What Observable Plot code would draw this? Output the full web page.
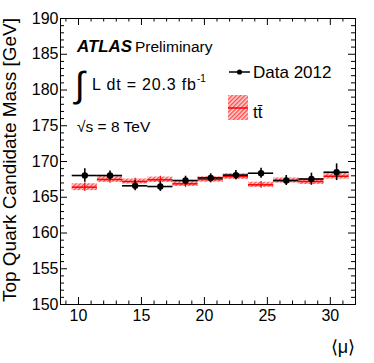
<!DOCTYPE html>
<html><head><meta charset="utf-8">
<script src="https://cdn.jsdelivr.net/npm/d3@7"></script>
<script src="https://cdn.jsdelivr.net/npm/@observablehq/plot@0.6"></script>
<style>body{margin:0;background:#fff;} svg{display:block;}</style>
</head><body><div id="chart"></div>
<script>
// bins in <mu>
const binLow    = [9.5, 11.5, 13.5, 15.5, 17.5, 19.5, 21.5, 23.5, 25.5, 27.5, 29.5];
const binHigh   = [11.5, 13.5, 15.5, 17.5, 19.5, 21.5, 23.5, 25.5, 27.5, 29.5, 31.5];
const binCenter = [10.5, 12.5, 14.5, 16.5, 18.5, 20.5, 22.5, 24.5, 26.5, 28.5, 30.5];
// Data 2012
const dataMass = [168.04, 168.04, 166.60, 166.50, 167.34, 167.70, 168.10, 168.36, 167.34, 167.55, 168.50];
const dataErr  = [0.93, 0.63, 0.70, 0.68, 0.60, 0.58, 0.63, 0.70, 0.70, 0.82, 1.17];
// ttbar MC
const ttMass = [166.41, 167.48, 167.20, 167.44, 166.88, 167.48, 167.90, 166.74, 167.34, 167.20, 167.94];
const ttBand = [0.48, 0.40, 0.35, 0.38, 0.38, 0.38, 0.40, 0.36, 0.36, 0.42, 0.40];
// ticks
const xMajor = [10, 15, 20, 25, 30];
const yMajor = [150, 155, 160, 165, 170, 175, 180, 185, 190];
const xMinor = d3.range(9, 32).filter(v => v % 5 !== 0);
const yMinor = d3.range(151, 190).filter(v => v % 5 !== 0);

const rows = binCenter.map((c, i) => ({
  c, lo: binLow[i], hi: binHigh[i],
  m: dataMass[i], e: dataErr[i], tt: ttMass[i], tb: ttBand[i]
}));

const W = 374, H = 363, mL = 60, mR = 19, mT = 18, mB = 59;
const pw = W - mL - mR, ph = H - mT - mB;
const FONT = "'Liberation Sans', Arial, Helvetica, sans-serif";

const svg = Plot.plot({
  width: W, height: H,
  marginLeft: mL, marginRight: mR, marginTop: mT, marginBottom: mB,
  x: {domain: [8.57, 32]},
  y: {domain: [150, 190]},
  style: {fontFamily: FONT, fontSize: "16px", background: "white", color: "black"},
  marks: [
    Plot.rect(rows, {x1: "lo", x2: "hi", y1: d => d.tt - d.tb, y2: d => d.tt + d.tb, fill: "#ff0001"}),
    Plot.ruleY(rows, {x1: "lo", x2: "hi", y: "tt", stroke: "#ff0000", strokeWidth: 1.5}),
    Plot.ruleX(rows, {x: "c", y1: d => d.tt - d.tb - 0.12, y2: d => d.tt + d.tb + 0.12, stroke: "#ff0000", strokeWidth: 1.2}),
    Plot.ruleY(rows, {x1: "lo", x2: "hi", y: "m", stroke: "black", strokeWidth: 1.6}),
    Plot.ruleX(rows, {x: "c", y1: d => d.m - d.e, y2: d => d.m + d.e, stroke: "black", strokeWidth: 1.6}),
    Plot.dot(rows, {x: "c", y: "m", r: 3.2, fill: "black", stroke: null}),
    Plot.frame({stroke: "black", strokeWidth: 1}),
    Plot.tickY(yMajor, {y: d => d, insetRight: pw - 7, stroke: "black"}),
    Plot.tickY(yMajor, {y: d => d, insetLeft: pw - 7, stroke: "black"}),
    Plot.tickY(yMinor, {y: d => d, insetRight: pw - 4, stroke: "black"}),
    Plot.tickY(yMinor, {y: d => d, insetLeft: pw - 4, stroke: "black"}),
    Plot.tickX(xMajor, {x: d => d, insetTop: ph - 7, stroke: "black"}),
    Plot.tickX(xMajor, {x: d => d, insetBottom: ph - 7, stroke: "black"}),
    Plot.tickX(xMinor, {x: d => d, insetTop: ph - 3.5, stroke: "black"}),
    Plot.tickX(xMinor, {x: d => d, insetBottom: ph - 3.5, stroke: "black"}),
    Plot.axisY({ticks: yMajor, tickSize: 0, tickPadding: 2, label: null, fontSize: 16}),
    Plot.axisX({ticks: xMajor, tickSize: 0, tickPadding: 5, label: null, fontSize: 16})
  ]
});

const s = d3.select(svg);
const defs = s.insert("defs", ":first-child");
const pat = defs.append("pattern").attr("id", "hatch").attr("patternUnits", "userSpaceOnUse")
  .attr("width", 3).attr("height", 3).attr("patternTransform", "rotate(45)");
pat.append("rect").attr("width", 3).attr("height", 3).attr("fill", "#ffd6d6");
pat.append("line").attr("x1", 0.75).attr("y1", 0).attr("x2", 0.75).attr("y2", 3)
  .attr("stroke", "#ff3030").attr("stroke-width", 1.2);
s.selectAll('[fill="#ff0001"]').attr("fill", "url(#hatch)");

function txt(x, y, str, size, extra = {}) {
  const t = s.append("text").attr("x", x).attr("y", y).attr("font-family", FONT)
    .attr("font-size", size).attr("fill", "black").attr("text-anchor", "start").text(str);
  for (const k in extra) t.attr(k, extra[k]);
  return t;
}
// ATLAS label
txt(77, 52, "ATLAS", 16, {"font-weight": "bold", "font-style": "italic", "textLength": 55, "lengthAdjust": "spacingAndGlyphs"});
txt(135, 52, "Preliminary", 15.5);
txt(75, 97, "∫", 36);
txt(92, 90, "L dt = 20.3 fb", 16, {"textLength": 104, "lengthAdjust": "spacing"});
txt(197, 82, "-1", 10);
txt(77, 132, "√s = 8 TeV", 15.5);
// legend
s.append("line").attr("x1", 229).attr("x2", 250).attr("y1", 72).attr("y2", 72).attr("stroke", "black").attr("stroke-width", 1.5);
s.append("circle").attr("cx", 239.5).attr("cy", 72).attr("r", 2.6).attr("fill", "black");
txt(253, 78, "Data 2012", 17);
s.append("rect").attr("x", 228).attr("y", 95).attr("width", 20).attr("height", 25).attr("fill", "url(#hatch)");
s.append("line").attr("x1", 228).attr("x2", 248).attr("y1", 108).attr("y2", 108).attr("stroke", "#ff0000").attr("stroke-width", 1.5);
txt(253, 118, "tt\u0304", 17);
// axis titles
txt(16, 18, "Top Quark Candidate Mass [GeV]", 19, {"text-anchor": "end", "transform": "rotate(-90,16,18)"});
txt(355, 353, "⟨μ⟩", 18, {"text-anchor": "end"});

document.getElementById("chart").appendChild(svg);
</script>
</body></html>
